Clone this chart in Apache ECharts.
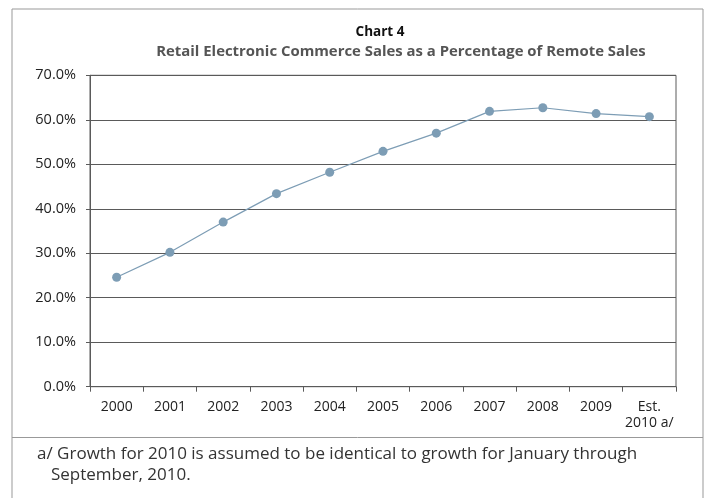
<!DOCTYPE html>
<html>
<head>
<meta charset="utf-8">
<script src="https://cdn.jsdelivr.net/npm/echarts@6/dist/echarts.min.js"></script>
<style>
  html, body { margin: 0; padding: 0; background: #fff; }
  #chart { width: 709px; height: 498px; }
</style>
</head>
<body>
<div id="chart"></div>
<script>
  // categories and values
  const years = ['2000', '2001', '2002', '2003', '2004', '2005', '2006', '2007', '2008', '2009', 'Est.\n2010 a/'];
  const ecomShare = [24.6, 30.2, 37.0, 43.4, 48.2, 52.9, 57.0, 61.9, 62.7, 61.4, 60.7];
  const yTicks = [0, 10, 20, 30, 40, 50, 60, 70];

  const font = '"Open Sans", "Noto Sans", sans-serif';
  const chart = echarts.init(document.getElementById('chart'));

  const option = {
    animation: false,
    backgroundColor: '#fff',
    title: [
      {
        text: 'Chart 4',
        left: 375, top: 20, textAlign: 'center',
        textStyle: { fontFamily: font, fontSize: 13.5, fontWeight: 'bold', color: '#111' }
      },
      {
        text: 'Retail Electronic Commerce Sales as a Percentage of Remote Sales',
        left: 396, top: 39, textAlign: 'center',
        textStyle: { fontFamily: font, fontSize: 14.9, fontWeight: 'bold', color: '#555' }
      }
    ],
    graphic: [
      {
        type: 'rect', shape: { x: 12, y: 9, width: 691, height: 520 },
        style: { fill: 'none', stroke: '#999', lineWidth: 1 }, silent: true
      },
      {
        type: 'line', shape: { x1: 12, y1: 437.5, x2: 703, y2: 437.5 },
        style: { stroke: '#999', lineWidth: 1 }, silent: true
      },
      {
        type: 'text', left: 37, top: 446,
        style: {
          text: 'a/ Growth for 2010 is assumed to be identical to growth for January through',
          font: '17px ' + font, fill: '#333'
        }
      },
      {
        type: 'text', left: 51, top: 467,
        style: { text: 'September, 2010.', font: '17px ' + font, fill: '#333' }
      }
    ],
    grid: {
      left: 90, right: 33, top: 75.3, bottom: 111.3,
      show: true, borderColor: '#5a5a5a', borderWidth: 1, backgroundColor: 'transparent'
    },
    xAxis: {
      type: 'category',
      data: years,
      boundaryGap: true,
      axisLine: { lineStyle: { color: '#5a5a5a', width: 1 } },
      axisTick: { show: true, length: 5, lineStyle: { color: '#5a5a5a' } },
      axisLabel: {
        color: '#222', fontFamily: font, fontSize: 14, margin: 12,
        verticalAlign: 'top', lineHeight: 16, interval: 0
      }
    },
    yAxis: {
      type: 'value',
      min: yTicks[0], max: yTicks[yTicks.length - 1], interval: 10,
      axisLine: { show: true, lineStyle: { color: '#5a5a5a', width: 1 } },
      axisTick: { show: true, length: 4, lineStyle: { color: '#5a5a5a' } },
      splitLine: { show: true, lineStyle: { color: '#5a5a5a', width: 1 } },
      axisLabel: {
        color: '#222', fontFamily: font, fontSize: 14.5, margin: 14,
        formatter: v => v.toFixed(1) + '%'
      }
    },
    series: [
      {
        type: 'line',
        data: ecomShare,
        symbol: 'circle',
        symbolSize: 9,
        lineStyle: { color: '#7d9db5', width: 1.2 },
        itemStyle: { color: '#7d9db5' },
        z: 5
      }
    ]
  };

  chart.setOption(option);
</script>
</body>
</html>
